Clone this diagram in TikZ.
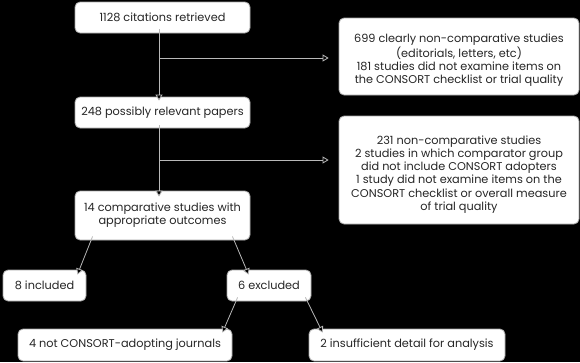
\documentclass[tikz,border=0pt]{standalone}
\usepackage{fontspec}
\setmainfont{Poppins}
\usetikzlibrary{arrows.meta}
\begin{document}
\begin{tikzpicture}[x=1pt,y=-1pt,
  box/.style={draw=gray!70, line width=0.8pt, fill=white, rounded corners=5pt, align=center, inner sep=0pt, font=\fontsize{11.3}{13.3}\selectfont, text=black!85},
  txt/.style={align=center, inner sep=0pt, font=\fontsize{11.3}{13.3}\selectfont, text=black!85},
  conn/.style={draw=gray!55, line width=0.8pt, -{Triangle[open,length=6pt,width=7pt,fill=black]}}]
\fill[black] (0,0) rectangle (580,362);
\useasboundingbox (0,0) rectangle (580,362);
\node[box, minimum width=175pt, minimum height=31pt] (b1) at (162.5,17.5) {1128 citations retrieved};
\node[box, minimum width=175pt, minimum height=31pt] (b2) at (162.5,112.5) {248 possibly relevant papers};
\node[box, minimum width=175pt, minimum height=49pt] (b3) at (162.5,215.5) {14 comparative studies with\\appropriate outcomes};
\node[box, minimum width=240pt, minimum height=77pt] (e1) at (459,56.5) {};
\node[txt] (e1t) at ([yshift=-4pt]e1.center) {699 clearly non-comparative studies\\(editorials, letters, etc)\\181 studies did not examine items on\\the CONSORT checklist or trial quality};
\node[box, minimum width=240pt, minimum height=108pt] (e2) at (459,170) {};
\node[txt] (e2t) at ([yshift=-4.5pt]e2.center) {231 non-comparative studies\\2 studies in which comparator group\\did not include CONSORT adopters\\1 study did not examine items on the\\CONSORT checklist or overall measure\\of trial quality};
\node[box, minimum width=83pt, minimum height=31pt] (inc) at (44.5,285.5) {8 included};
\node[box, minimum width=84pt, minimum height=31pt] (exc) at (269,285.5) {6 excluded};
\node[box, minimum width=214pt, minimum height=32pt] (x1) at (125,345) {4 not CONSORT-adopting journals};
\node[box, minimum width=196pt, minimum height=32pt] (x2) at (407,345) {2 insufficient detail for analysis};
% main flow
\coordinate (s1) at ([xshift=-3.5pt,yshift=4pt]b1.south);
\coordinate (t1) at ([xshift=-3.5pt,yshift=-4pt]b2.north);
\draw[conn] (s1) -- (t1);
\coordinate (br1) at (s1 |- 0,58);
\draw[conn] (br1) -- ([xshift=-10pt]e1.west |- br1);
\coordinate (s2) at ([xshift=-3.5pt,yshift=3pt]b2.south);
\coordinate (t2) at ([xshift=-3.5pt,yshift=-6pt]b3.north);
\draw[conn] (s2) -- (t2);
\coordinate (br2) at (s2 |- 0,160);
\draw[conn] (br2) -- ([xshift=-10pt]e2.west |- br2);
% splits
\draw[conn] ([xshift=18pt,yshift=4pt]b3.south west) -- ([xshift=-9pt,yshift=-5pt]inc.north east);
\draw[conn] ([xshift=-18pt,yshift=4pt]b3.south east) -- ([xshift=22pt,yshift=-5pt]exc.north west);
\draw[conn] ([xshift=11pt,yshift=4pt]exc.south west) -- ([xshift=-10pt,yshift=-4pt]x1.north east);
\draw[conn] ([xshift=-6pt,yshift=4pt]exc.south east) -- ([xshift=14pt,yshift=-4pt]x2.north west);
\end{tikzpicture}
\end{document}
